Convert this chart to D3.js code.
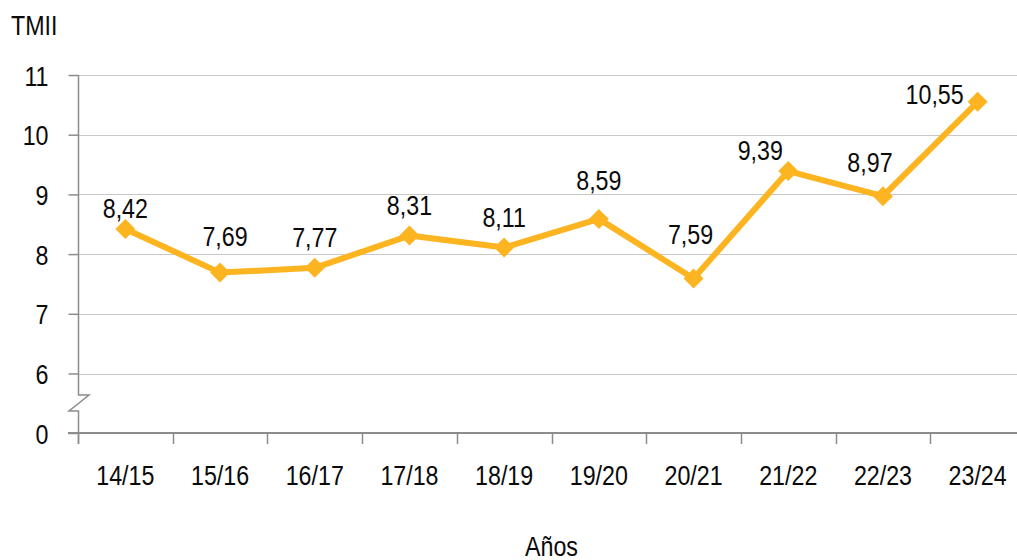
<!DOCTYPE html>
<html>
<head>
<meta charset="utf-8">
<script src="https://cdn.jsdelivr.net/npm/d3@7"></script>
<style>
  body { margin: 0; background: #fff; }
  svg { display: block; font-family: "Liberation Sans", Arial, sans-serif; }
</style>
</head>
<body>
<script>
var w = 1017;
var h = 560;

// data
var years = ["14/15", "15/16", "16/17", "17/18", "18/19", "19/20", "20/21", "21/22", "22/23", "23/24"];
var tmii = [8.42, 7.69, 7.77, 8.31, 8.11, 8.59, 7.59, 9.39, 8.97, 10.55];
var yTicks = [0, 6, 7, 8, 9, 10, 11];

var left = 78, right = 1025, bottom = 433;
var lineColor = "#FDB421";
var fs = 28;      // font size
var sx = 0.83;    // horizontal squeeze, to mimic a condensed face

var svg = d3.select("body")
  .append("svg")
  .attr("width", w)
  .attr("height", h);

// draws a condensed text at (px, py)
function narrowText(g, str, px, py, anchor, size) {
  return g.append("text")
    .text(str)
    .attr("transform", "translate(" + px + "," + py + ") scale(" + sx + ",1)")
    .attr("text-anchor", anchor)
    .attr("font-size", size || fs)
    .attr("fill", "#0a0a0a");
}

// broken axis: 0 sits one step below 6
var y = d3.scaleLinear()
  .domain([0, 6, 11])
  .range([bottom, 373.5, 75]);

var x = d3.scaleBand()
  .domain(years)
  .range([left, right]);

// gridlines
svg.append("g")
  .selectAll("line")
  .data(yTicks.filter(function(d) { return d > 0; }))
  .enter()
  .append("line")
  .attr("x1", left)
  .attr("x2", right)
  .attr("y1", function(d) { return Math.round(y(d)) + 0.5; })
  .attr("y2", function(d) { return Math.round(y(d)) + 0.5; })
  .attr("stroke", "#c8c8c8")
  .attr("stroke-width", 1);

// y axis
var yAxis = d3.axisLeft(y)
  .tickValues(yTicks)
  .tickSize(10)
  .tickFormat("");

var gy = svg.append("g")
  .attr("transform", "translate(" + (left + 0.5) + ",0)")
  .call(yAxis);
gy.select(".domain").remove();
gy.selectAll(".tick line").attr("stroke", "#8c8c8c").attr("stroke-width", 1.5);
gy.selectAll(".tick").each(function(d) {
  narrowText(d3.select(this), d3.format("d")(d), -30, 10, "end");
});

// axis line with break zigzag
var yb1 = 395, yb2 = 411;
var axisPath = d3.path();
axisPath.moveTo(left + 0.5, y(11));
axisPath.lineTo(left + 0.5, yb1);
axisPath.lineTo(left + 11, yb1);
axisPath.lineTo(left - 9, yb2);
axisPath.lineTo(left + 0.5, yb2);
axisPath.lineTo(left + 0.5, bottom + 11);
svg.append("path")
  .attr("d", axisPath.toString())
  .attr("fill", "none")
  .attr("stroke", "#8c8c8c")
  .attr("stroke-width", 1.5);

// x axis
var xAxis = d3.axisBottom(x)
  .tickSize(0)
  .tickFormat("");

var gx = svg.append("g")
  .attr("transform", "translate(0," + bottom + ")")
  .call(xAxis);
gx.select(".domain").remove();
gx.selectAll(".tick").each(function(d) {
  narrowText(d3.select(this), d, 0, 52, "middle");
});

svg.append("line")
  .attr("x1", left - 10)
  .attr("x2", right)
  .attr("y1", bottom)
  .attr("y2", bottom)
  .attr("stroke", "#8c8c8c")
  .attr("stroke-width", 2);

// category boundary ticks
svg.append("g")
  .selectAll("line")
  .data(years)
  .enter()
  .append("line")
  .attr("x1", function(d) { return Math.round(x(d)) + 0.5; })
  .attr("x2", function(d) { return Math.round(x(d)) + 0.5; })
  .attr("y1", bottom)
  .attr("y2", bottom + 11)
  .attr("stroke", "#8c8c8c")
  .attr("stroke-width", 1.5);

// series line
var cx = function(d, i) { return x(years[i]) + x.bandwidth() / 2; };
var line = d3.line()
  .x(cx)
  .y(function(d) { return y(d); });

svg.append("path")
  .datum(tmii)
  .attr("d", line)
  .attr("fill", "none")
  .attr("stroke", lineColor)
  .attr("stroke-width", 6)
  .attr("stroke-linejoin", "round");

// diamond markers
svg.append("g")
  .selectAll("path")
  .data(tmii)
  .enter()
  .append("path")
  .attr("d", d3.symbol().type(d3.symbolSquare).size(200))
  .attr("transform", function(d, i) {
    return "translate(" + cx(d, i) + "," + y(d) + ") rotate(45)";
  })
  .attr("fill", lineColor);

// value labels, nudged like in the original
var nudge = { 0: [0, 10], 1: [5, -6], 5: [0, -8], 6: [-3, -14], 7: [-28, 10], 8: [-13, -3], 9: [-43, 23] };
var labels = svg.append("g");
tmii.forEach(function(d, i) {
  var n = nudge[i] || [0, 0];
  narrowText(labels, d3.format(".2f")(d).replace(".", ","),
    cx(d, i) + n[0], y(d) - 21 + n[1], "middle");
});

// titles
narrowText(svg, "TMII", 11, 35, "start");
narrowText(svg, "Años", (left + right) / 2, 556, "middle");
</script>
</body>
</html>
